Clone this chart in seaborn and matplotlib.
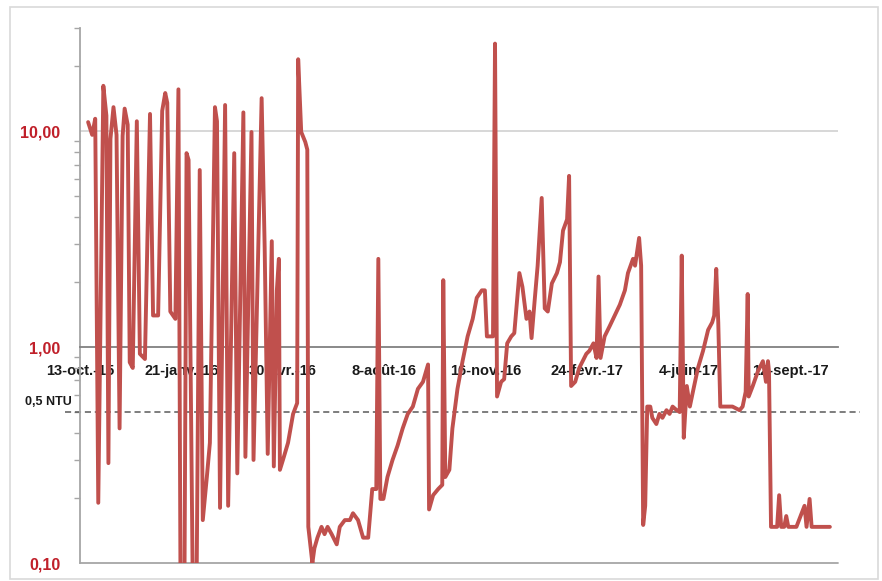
import pandas as pd
import numpy as np
import matplotlib
matplotlib.use("Agg")
import matplotlib.pyplot as plt
import matplotlib.transforms as mtransforms
from matplotlib.patches import Rectangle
from matplotlib.ticker import LogLocator, NullFormatter
import seaborn as sns

START = "2015-10-13"

# turbidity series: days since START / value in NTU
# oct. 2015 - mai 2016 : strong oscillations
days_a = [8, 12, 15, 18, 23, 26, 28, 30, 33, 36, 39, 42, 44, 47, 49, 52, 56, 59, 64,
          69, 72, 77, 81, 84, 86, 89, 94, 97, 99, 103, 105, 107, 111, 115, 118, 121,
          125, 128, 133, 135, 138, 143, 146, 152, 155, 161, 163, 169, 171, 179, 182,
          185, 189, 191, 194, 196, 197, 200, 205, 210, 214, 215, 218, 222, 224, 225]
ntu_a = [11.0, 9.6, 11.4, 0.19, 16.2, 11.8, 0.29, 9.2, 12.9, 9.6, 0.42, 9.5, 12.7, 10.7,
         0.85, 0.8, 11.1, 0.93, 0.88, 12.0, 1.4, 1.4, 12.4, 15.0, 13.5, 1.46, 1.35, 15.6,
         0.09, 0.09, 7.9, 7.35, 0.09, 0.09, 6.6, 0.158, 0.25, 0.36, 12.9, 11.1, 0.18,
         13.2, 0.184, 7.9, 0.26, 12.2, 0.31, 9.9, 0.30, 14.2, 2.87, 0.32, 3.09, 0.28,
         1.83, 2.56, 0.27, 0.30, 0.36, 0.49, 0.55, 21.5, 9.9, 8.9, 8.2, 0.147]

# mai 2016 - nov. 2016 : low level then slow rise
days_b = [229, 231, 234, 238, 241, 244, 248, 253, 256, 261, 266, 269, 274, 279, 284,
          288, 292, 294, 296, 299, 303, 308, 313, 318, 323, 328, 333, 338, 343, 344,
          348, 353, 357, 358, 360, 364, 367, 372, 377, 382, 387, 391, 396, 399, 401,
          407, 409]
ntu_b = [0.10, 0.117, 0.131, 0.147, 0.136, 0.147, 0.136, 0.122, 0.147, 0.158, 0.158,
         0.17, 0.158, 0.131, 0.131, 0.22, 0.22, 2.56, 0.198, 0.198, 0.25, 0.30, 0.35,
         0.42, 0.49, 0.53, 0.64, 0.69, 0.83, 0.177, 0.206, 0.22, 0.23, 2.04, 0.25, 0.27,
         0.42, 0.64, 0.86, 1.12, 1.35, 1.69, 1.83, 1.83, 1.12, 1.12, 25.4]

# nov. 2016 - oct. 2017
days_c = [411, 415, 418, 421, 425, 428, 433, 436, 440, 443, 445, 448, 451, 455, 458,
          461, 465, 470, 473, 476, 480, 482, 484, 488, 492, 499, 502, 506, 509, 511,
          513, 517, 522, 527, 532, 537, 540, 545, 547, 551, 553, 555, 557, 559, 562,
          564, 568, 571, 574, 578, 581, 584, 588, 591, 593, 595, 598, 601, 604, 609,
          614, 619, 623, 625, 627, 629, 631, 637, 643, 650, 653, 656, 658, 659, 663,
          668, 673, 676, 678, 679, 681, 687, 689, 691, 694, 696, 698, 706, 714, 716,
          719, 721, 729, 739]
ntu_c = [0.59, 0.69, 0.71, 1.04, 1.12, 1.16, 2.2, 1.9, 1.35, 1.46, 1.1, 1.63, 2.38, 4.9,
         1.51, 1.46, 1.97, 2.2, 2.47, 3.46, 3.9, 6.2, 0.66, 0.69, 0.8, 0.93, 0.96, 1.04,
         0.89, 2.12, 0.89, 1.12, 1.25, 1.4, 1.57, 1.83, 2.2, 2.56, 2.38, 3.2, 2.38, 0.15,
         0.184, 0.53, 0.53, 0.47, 0.44, 0.49, 0.47, 0.51, 0.49, 0.53, 0.51, 0.5, 2.65,
         0.38, 0.66, 0.53, 0.62, 0.8, 0.96, 1.2, 1.3, 1.4, 2.3, 1.3, 0.53, 0.53, 0.53,
         0.51, 0.53, 0.62, 1.76, 0.59, 0.66, 0.77, 0.86, 0.69, 0.86, 0.77, 0.147, 0.147,
         0.206, 0.147, 0.147, 0.165, 0.147, 0.147, 0.184, 0.147, 0.198, 0.147, 0.147,
         0.147]

tick_dates = ["2015-10-13", "2016-01-21", "2016-04-30", "2016-08-08",
              "2016-11-16", "2017-02-24", "2017-06-04", "2017-09-12"]
tick_labels = ["13-oct.-15", "21-janv.-16", "30-avr.-16", "8-août-16",
               "16-nov.-16", "24-févr.-17", "4-juin-17", "12-sept.-17"]
ytick_vals = [0.1, 1, 10]
ytick_labels = ["0,10", "1,00", "10,00"]
threshold = 0.5
threshold_label = "0,5 NTU"

df = pd.DataFrame({"day": days_a + days_b + days_c, "ntu": ntu_a + ntu_b + ntu_c})
df["date"] = pd.Timestamp(START) + pd.to_timedelta(df["day"], unit="D")

sns.set_style("white")
plt.rcParams["font.family"] = ["Liberation Sans", "DejaVu Sans"]

W, H = 882, 581
fig = plt.figure(figsize=(W / 100, H / 100), dpi=100)
ax = fig.add_axes([80 / W, 1 - 563 / H, (838 - 80) / W, (563 - 28) / H])

sns.lineplot(data=df, x="date", y="ntu", ax=ax, color="#C0504D", linewidth=2.8,
             estimator=None, sort=False, zorder=3)

ax.set_yscale("log")
ax.set_ylim(0.1, 30)
ax.set_xlim(pd.Timestamp(START), pd.Timestamp(START) + pd.Timedelta(days=747))
ax.set_xlabel("")
ax.set_ylabel("")

# horizontal reference lines
ax.axhline(10, color="#d4d4d4", lw=1.3, zorder=1)
ax.axhline(0.1, color="#a6a6a6", lw=1.3, zorder=1, clip_on=False)
ax.axhline(threshold, xmin=-15 / 758, xmax=(860 - 80) / 758, color="#5a5a5a",
           lw=1.1, ls=(0, (4, 2.5)), zorder=2, clip_on=False)

# x axis crosses the y axis at 1
ax.spines["bottom"].set_position(("data", 1))
ax.spines["bottom"].set_color("#808080")
ax.spines["bottom"].set_linewidth(1.3)
ax.spines["left"].set_color("#a6a6a6")
ax.spines["left"].set_linewidth(1.3)
ax.spines["top"].set_visible(False)
ax.spines["right"].set_visible(False)

ax.set_xticks(pd.to_datetime(tick_dates))
ax.set_xticklabels(tick_labels, fontweight="bold")
ax.tick_params(axis="x", length=3, color="#b0b0b0", pad=9, labelsize=10.5,
               labelcolor="#1a1a1a")

ax.set_yticks(ytick_vals)
ax.set_yticklabels(ytick_labels, fontweight="bold", color="#C0202A", fontsize=11.5)
ax.yaxis.set_minor_locator(LogLocator(base=10, subs=np.arange(2, 10)))
ax.yaxis.set_minor_formatter(NullFormatter())
ax.tick_params(axis="y", which="major", length=5, color="#a6a6a6", width=1.2, pad=9)
ax.tick_params(axis="y", which="minor", length=4, color="#a6a6a6", width=1.0, left=True)

# threshold label left of the axis
trans = mtransforms.blended_transform_factory(ax.transAxes, ax.transData)
ax.text(-8 / 758, 0.556, threshold_label, transform=trans, ha="right", va="center",
        fontsize=9, fontweight="bold", color="#1a1a1a")

# light frame around the chart area
fig.patches.append(Rectangle((10 / W, 2 / H), (878 - 10) / W, (574 - 2) / H,
                             transform=fig.transFigure, fill=False,
                             edgecolor="#d9d9d9", linewidth=1.2))

fig.savefig("out.png", dpi=100)
